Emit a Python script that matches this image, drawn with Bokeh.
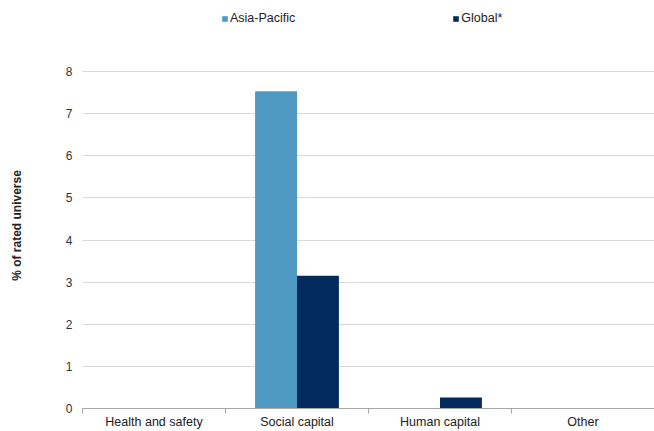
from bokeh.plotting import figure
from bokeh.layouts import column
from bokeh.models import Range1d, FixedTicker, Legend, LegendItem
from bokeh.embed import file_html
from bokeh.resources import INLINE

categories = ["Health and safety", "Social capital", "Human capital", "Other"]
asia_pacific = [0.0, 7.53, 0.0, 0.0]
global_vals = [0.0, 3.15, 0.26, 0.0]
series_names = ["Asia-Pacific", "Global*"]
y_ticks = [0, 1, 2, 3, 4, 5, 6, 7, 8]

FONT = "Liberation Sans"
C_ASIA = "#4F9AC3"
C_GLOBAL = "#002B5C"

W = 654
LEFT = 82           # left border (frame starts here)
LEG_H = 42          # height of the legend strip
MAIN_H = 431 - LEG_H
BOTTOM = 23         # space under the frame for the category labels
Y8 = 71 - LEG_H     # row of the "8" gridline inside the main figure
fb = MAIN_H - BOTTOM
y_top = 8 * fb / (fb - Y8)

centers = [i + 0.5 for i in range(len(categories))]
bw = 0.293

# ---- legend strip -------------------------------------------------------
lp = figure(width=W, height=LEG_H, output_backend="svg", toolbar_location=None,
            x_range=Range1d(0, len(categories)), y_range=Range1d(100, 101),
            x_axis_type=None, y_axis_type=None,
            min_border_left=LEFT, min_border_right=0, min_border_top=0, min_border_bottom=0)
lp.outline_line_color = None
lp.xgrid.grid_line_color = None
lp.ygrid.grid_line_color = None
l1 = lp.vbar(x=[c - bw / 2 for c in centers], top=asia_pacific, width=bw, bottom=0,
             fill_color=C_ASIA, line_color=None)
l2 = lp.vbar(x=[c + bw / 2 for c in centers], top=global_vals, width=bw, bottom=0,
             fill_color=C_GLOBAL, line_color=None)
legend = Legend(items=[LegendItem(label=series_names[0], renderers=[l1]),
                       LegendItem(label=series_names[1], renderers=[l2])],
                orientation="horizontal", location=(221 - LEFT, LEG_H - 25),
                glyph_width=7, glyph_height=7, label_height=14, label_standoff=2,
                spacing=157,
                label_text_font=FONT, label_text_font_size="12.5px",
                label_text_color="#222222", background_fill_alpha=0,
                border_line_color=None, padding=0, margin=0)
lp.add_layout(legend, "center")

# ---- main chart ---------------------------------------------------------
p = figure(width=W, height=MAIN_H, output_backend="svg", toolbar_location=None,
           x_range=Range1d(0, len(categories)), y_range=Range1d(0, y_top),
           min_border_left=LEFT, min_border_right=0, min_border_top=0,
           min_border_bottom=BOTTOM)
p.outline_line_color = None
p.background_fill_color = "white"
p.border_fill_color = "white"

p.vbar(x=[c - bw / 2 for c in centers], top=asia_pacific, width=bw, bottom=0,
       fill_color=C_ASIA, line_color=None)
p.vbar(x=[c + bw / 2 for c in centers], top=global_vals, width=bw, bottom=0,
       fill_color=C_GLOBAL, line_color=None)

xa = p.xaxis[0]
xa.ticker = FixedTicker(ticks=centers, minor_ticks=list(range(len(categories) + 1)))
xa.major_label_overrides = {c: name for c, name in zip(centers, categories)}
xa.major_tick_line_color = None
xa.major_tick_out = 0
xa.major_tick_in = 0
xa.minor_tick_line_color = "#a6a6a6"
xa.minor_tick_out = 5
xa.minor_tick_in = 0
xa.axis_line_color = "#a6a6a6"
xa.major_label_text_font = FONT
xa.major_label_text_font_size = "12.5px"
xa.major_label_text_color = "#222222"
xa.major_label_standoff = 1
p.xgrid.grid_line_color = None

ya = p.yaxis[0]
ya.ticker = FixedTicker(ticks=y_ticks)
ya.axis_line_color = None
ya.major_tick_line_color = None
ya.major_tick_out = 0
ya.major_tick_in = 0
ya.minor_tick_line_color = None
ya.major_label_text_font = FONT
ya.major_label_text_font_size = "12px"
ya.major_label_text_color = "#333333"
ya.major_label_standoff = 10
ya.axis_label = "% of rated universe"
ya.axis_label_text_font = FONT
ya.axis_label_text_font_style = "bold"
ya.axis_label_text_font_size = "12px"
ya.axis_label_text_color = "#222222"
ya.axis_label_standoff = 39
p.ygrid.grid_line_color = "#d9d9d9"
p.ygrid.ticker = FixedTicker(ticks=y_ticks)

layout = column(lp, p, spacing=0)
open("out.html", "w").write(file_html(layout, INLINE))
